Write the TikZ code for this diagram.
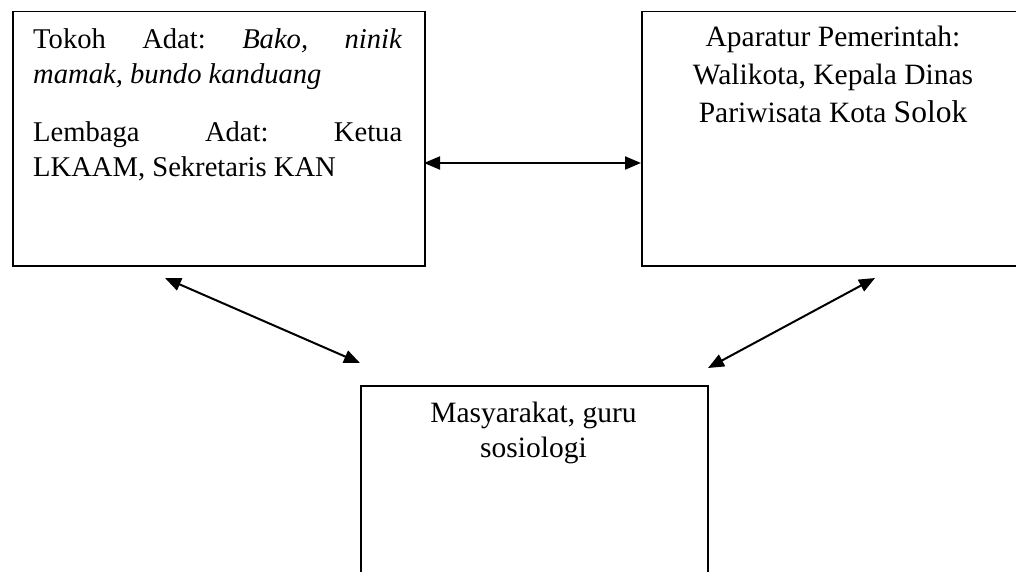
\documentclass[tikz,border=0pt]{standalone}
\usepackage{fontspec}
\setmainfont{Liberation Serif}
\usetikzlibrary{arrows.meta}
\frenchspacing
\begin{document}
\begin{tikzpicture}[x=1pt,y=-1pt,
  box/.style={draw, line width=1.5pt, rectangle, inner sep=0pt},
  link/.style={line width=2pt, {Triangle[length=16pt,width=13pt]}-{Triangle[length=16pt,width=13pt]}},
  txtl/.style={font=\fontsize{28.6}{34.5}\selectfont\frenchspacing, inner sep=0pt, text width=369pt, align=justify, anchor=base west},
  txtc/.style={font=\fontsize{29.5}{38}\selectfont, inner sep=0pt, align=center, anchor=base}]
\useasboundingbox (0,0) rectangle (1016,572);
\clip (0,0) rectangle (1016,572);
\fill[white] (0,0) rectangle (1016,572);
% boxes
\node[box, minimum width=412pt, minimum height=254pt, anchor=north west] (tokoh) at (12,11) {};
\node[box, minimum width=390pt, minimum height=254pt, anchor=north west] (aparat) at (641,11) {};
\node[box, minimum width=347pt, minimum height=260pt, anchor=north west] (masy) at (360,385) {};
% texts (base anchor of centred multi-line nodes = last baseline)
\node[txtl] (tokohA) at (33,49) {Tokoh Adat: \textit{Bako,} \textit{ninik}\linebreak \textit{mamak, bundo kanduang}};
\node[txtl] (tokohB) at (33,142) {Lembaga Adat: Ketua\linebreak LKAAM, Sekretaris KAN};
\node[txtc] (aparatT) at (833,123) {Aparatur Pemerintah:\\Walikota, Kepala Dinas\\Pariwisata Kota {\fontsize{31.5}{38}\selectfont Solok}};
\node[txtc, font=\fontsize{29.5}{35}\selectfont] (masyT) at (533.5,457) {Masyarakat, guru\\sosiologi};
% connector ends
\coordinate (hL) at (424,163);
\coordinate (hR) at (641,163);
\coordinate (dLa) at (165,278);
\coordinate (dLb) at (360,363);
\coordinate (dRa) at (875,278);
\coordinate (dRb) at (708,368);
\draw[link] (hL) -- (hR);
\draw[link] (dLa) -- (dLb);
\draw[link] (dRa) -- (dRb);
\end{tikzpicture}
\end{document}
